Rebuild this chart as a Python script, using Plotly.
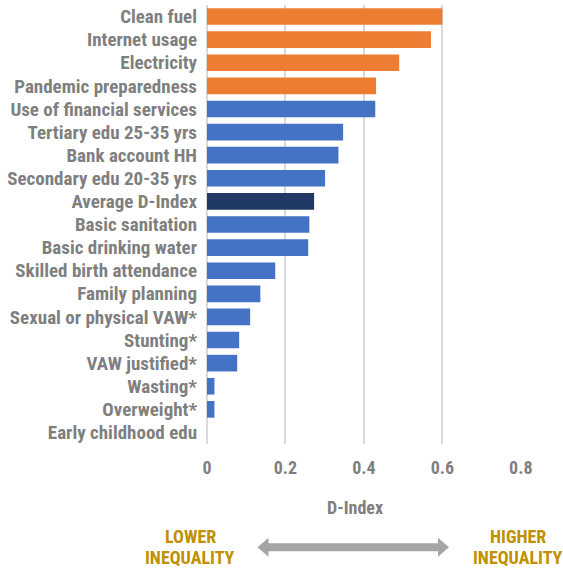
import plotly.graph_objects as go

categories = [
    "Clean fuel", "Internet usage", "Electricity", "Pandemic preparedness",
    "Use of financial services", "Tertiary edu 25-35 yrs", "Bank account HH",
    "Secondary edu 20-35 yrs", "Average D-Index", "Basic sanitation",
    "Basic drinking water", "Skilled birth attendance", "Family planning",
    "Sexual or physical VAW*", "Stunting*", "VAW justified*", "Wasting*",
    "Overweight*", "Early childhood edu",
]
d_index = [
    0.600, 0.571, 0.490, 0.431, 0.429, 0.347, 0.335, 0.301, 0.273, 0.261,
    0.258, 0.174, 0.136, 0.110, 0.082, 0.077, 0.019, 0.019, 0.0,
]
highlighted = ["Clean fuel", "Internet usage", "Electricity", "Pandemic preparedness"]
average_label = "Average D-Index"
x_tick_vals = [0, 0.2, 0.4, 0.6, 0.8]
x_tick_text = ["0", "0.2", "0.4", "0.6", "0.8"]

ORANGE = "#ED7D31"
BLUE = "#4472C4"
NAVY = "#1F3864"
GRAY_TXT = "#7F7F7F"
GOLD = "#BF9000"
FONT = "Liberation Sans Narrow, Roboto Condensed, Arial Narrow, sans-serif"

colors = [ORANGE if c in highlighted else (NAVY if c == average_label else BLUE)
          for c in categories]

W, H = 563, 570
L, R, T, B = 207, 42, 5, 126
PW, PH = W - L - R, H - T - B


def px(x):
    return (x - L) / PW


def py(y):
    return (H - B - y) / PH


fig = go.Figure(go.Bar(
    x=d_index, y=categories, orientation="h",
    marker=dict(color=colors, line=dict(width=0)),
))

fig.update_layout(
    width=W, height=H,
    margin=dict(l=L, r=R, t=T, b=B),
    plot_bgcolor="white", paper_bgcolor="white",
    bargap=0.28,
    showlegend=False,
    font=dict(family=FONT, size=18, color=GRAY_TXT, weight="bold"),
    xaxis=dict(
        range=[0, 0.8005], tickvals=x_tick_vals, ticktext=x_tick_text,
        showgrid=True, gridcolor="#D9D9D9", gridwidth=2,
        zeroline=True, zerolinecolor="#D9D9D9", zerolinewidth=2,
        showline=False, ticks="", ticklabelstandoff=11,
        tickfont=dict(family=FONT, size=18, color=GRAY_TXT, weight="bold"),
        fixedrange=True,
    ),
    yaxis=dict(
        autorange="reversed", showgrid=False, zeroline=False, showline=False,
        ticks="", ticklabelstandoff=9,
        tickfont=dict(family=FONT, size=19, color=GRAY_TXT, weight="bold"),
        fixedrange=True,
    ),
)

ann = [
    dict(text="D-Index", x=px(355), y=py(507), color=GRAY_TXT),
    dict(text="LOWER", x=px(190), y=py(536), color=GOLD),
    dict(text="INEQUALITY", x=px(190), y=py(557), color=GOLD),
    dict(text="HIGHER", x=px(518), y=py(536), color=GOLD),
    dict(text="INEQUALITY", x=px(518), y=py(557), color=GOLD),
]
for a in ann:
    fig.add_annotation(
        text=a["text"], x=a["x"], y=a["y"], xref="paper", yref="paper",
        xanchor="center", yanchor="middle", showarrow=False,
        font=dict(family=FONT, size=18, color=a["color"], weight="bold"),
    )

# double-headed arrow
x0, x1, yc = 257.5, 449.0, 547.3
sh, hh, hl = 4.0, 9.5, 11.0
pts = [
    (x0, yc), (x0 + hl, yc - hh), (x0 + hl, yc - sh), (x1 - hl, yc - sh),
    (x1 - hl, yc - hh), (x1, yc), (x1 - hl, yc + hh), (x1 - hl, yc + sh),
    (x0 + hl, yc + sh), (x0 + hl, yc + hh),
]
path = "M " + " L ".join(f"{px(a):.5f},{py(b):.5f}" for a, b in pts) + " Z"
fig.add_shape(type="path", path=path, xref="paper", yref="paper",
              fillcolor="#A5A5A5", line=dict(width=0))

fig.write_html(
    "out.html",
    config={"displayModeBar": False, "staticPlot": True},
    post_script="document.body.style.margin='0';document.body.style.padding='0';",
)
